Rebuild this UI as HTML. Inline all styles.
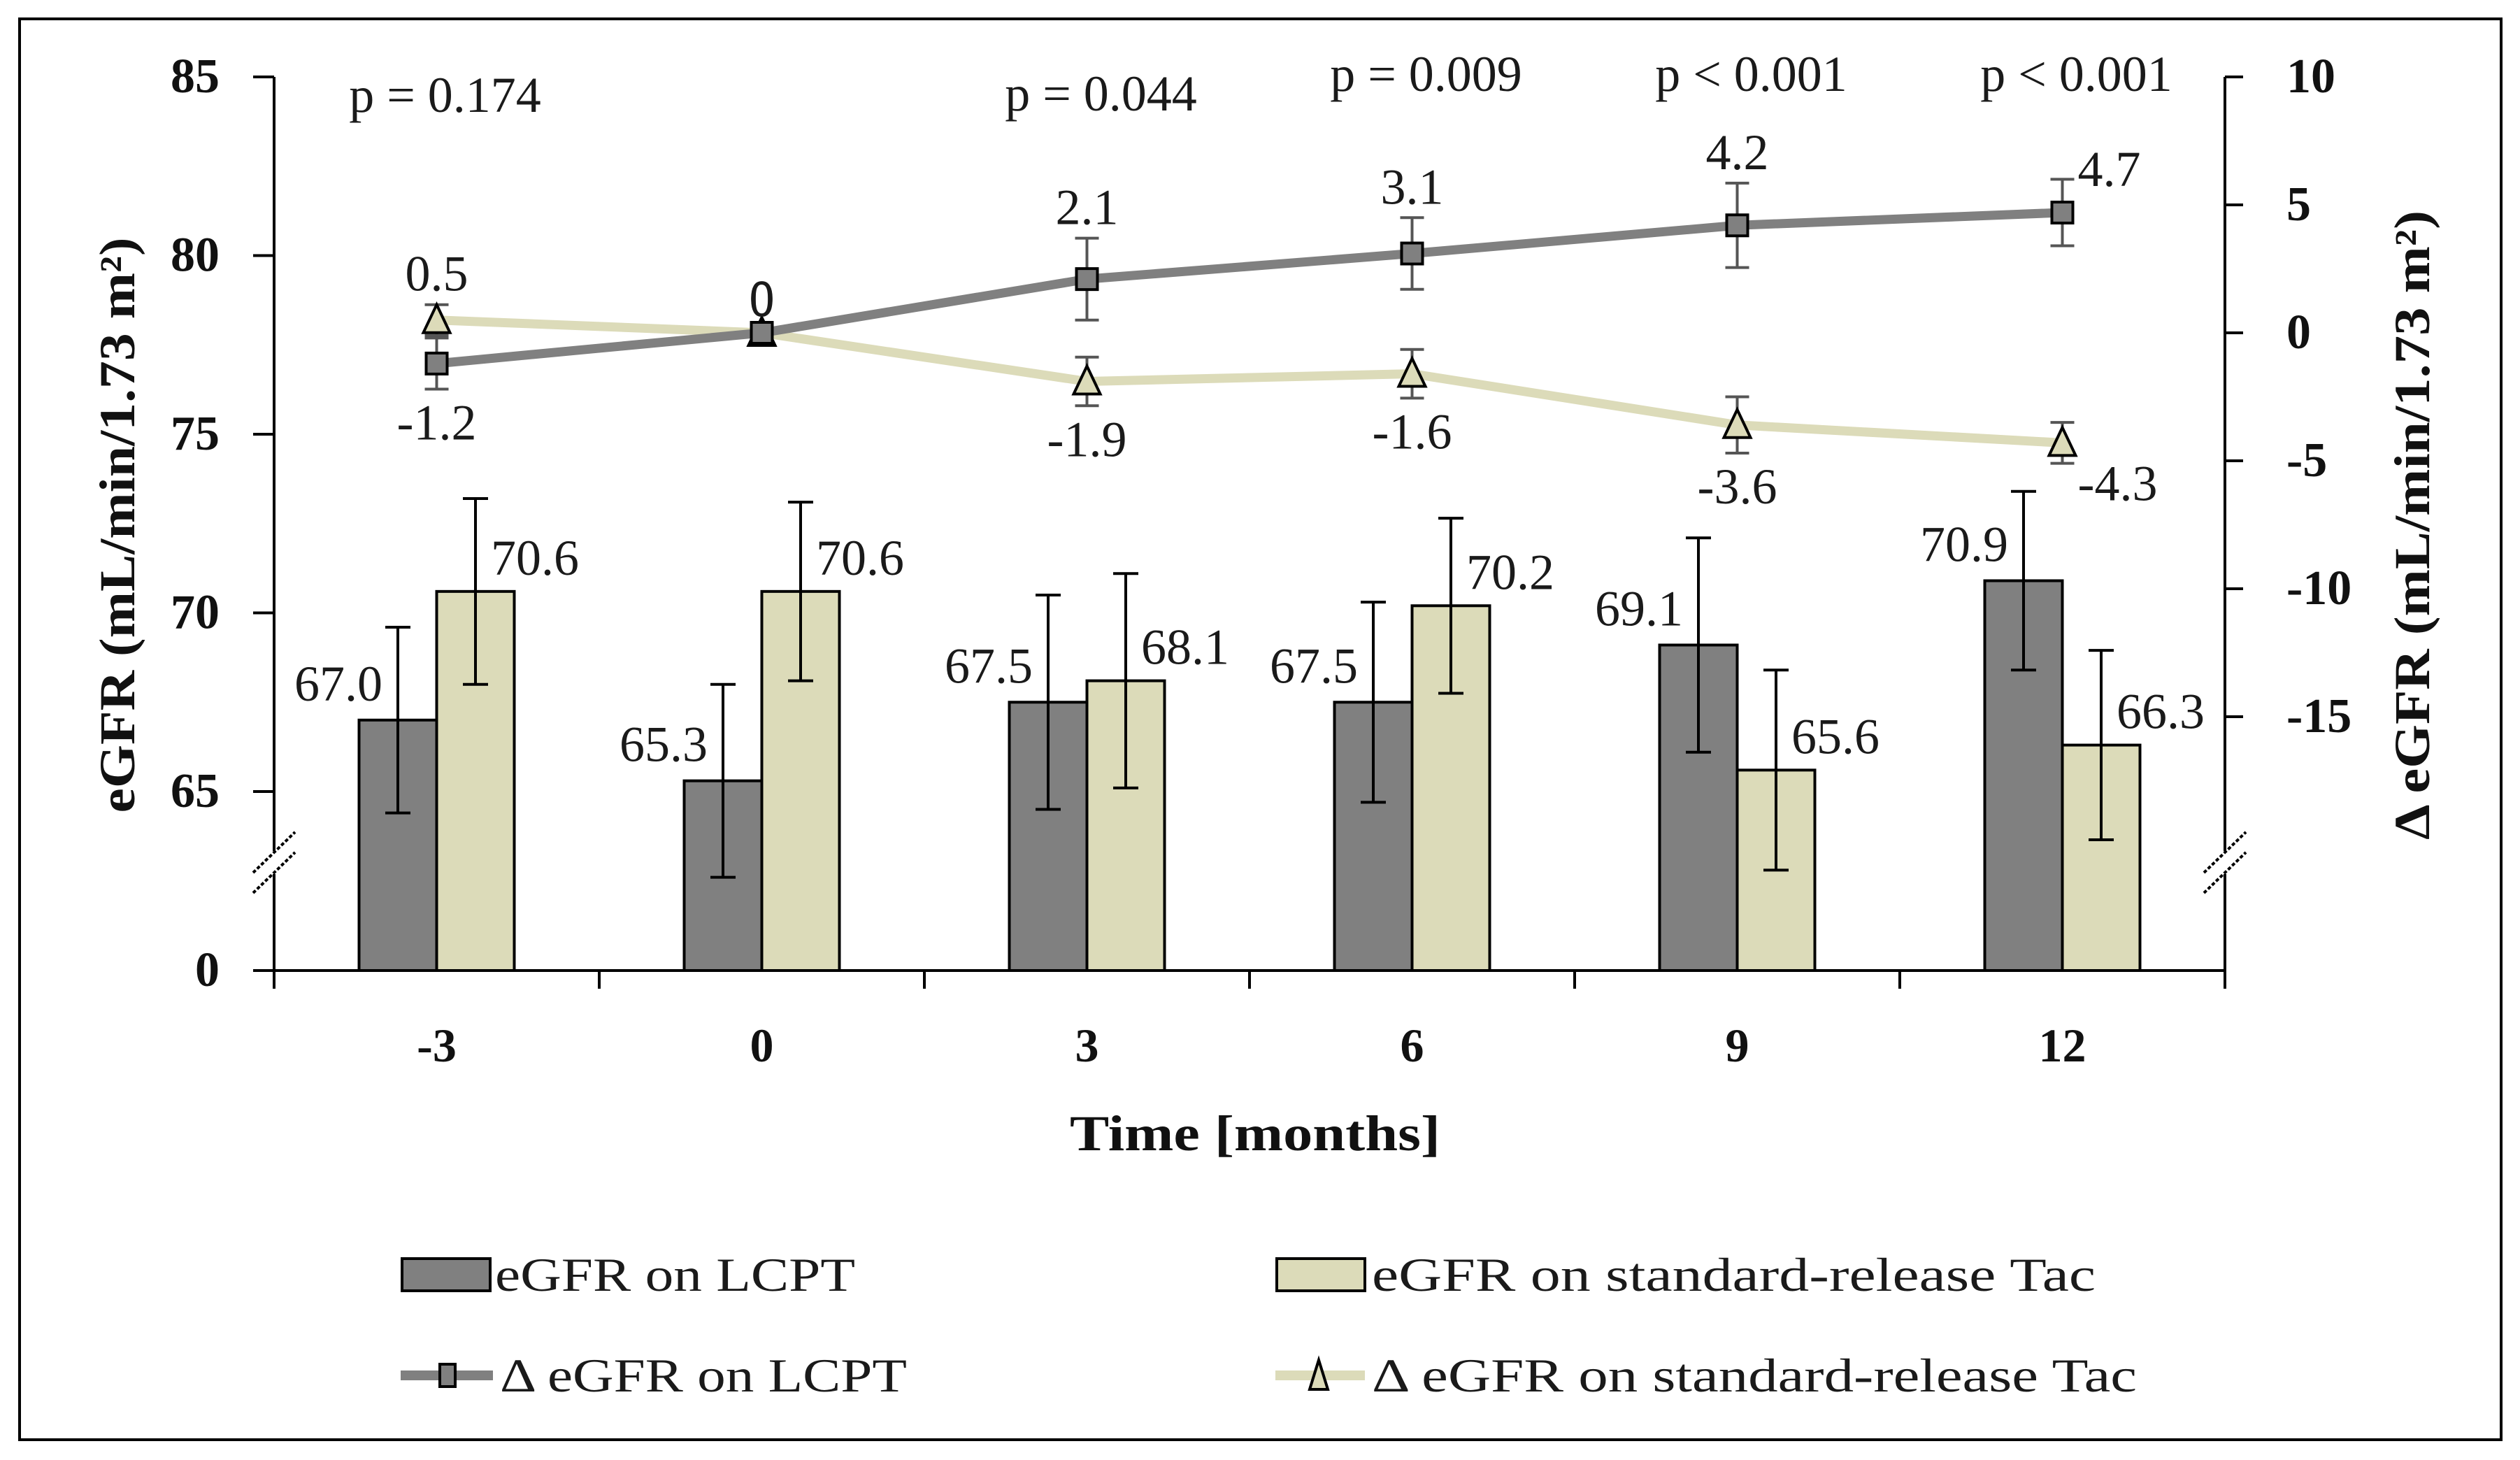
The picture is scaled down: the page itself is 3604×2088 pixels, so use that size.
<!DOCTYPE html>
<html><head><meta charset="utf-8">
<style>
html,body{margin:0;padding:0;background:#fff;}
svg{display:block;}
text{font-family:"Liberation Serif",serif;fill:#1a1a1a;}
.b{font-weight:bold;fill:#111;}
</style></head>
<body>
<svg id="chart" width="3604" height="2088" viewBox="0 0 3604 2088" xmlns="http://www.w3.org/2000/svg">
<rect x="28" y="27" width="3549" height="2032" fill="#fff" stroke="#000" stroke-width="4"/>
<g id="axes"></g>
<g id="bars"></g>
<g id="lines"></g>
<g id="labels"></g>
<g id="legend">
  <rect x="575" y="1800" width="126" height="46" fill="#808080" stroke="#000" stroke-width="4"/>
  <text x="708" y="1846" font-size="68" textLength="515" lengthAdjust="spacingAndGlyphs">eGFR on LCPT</text>
  <rect x="1826" y="1800" width="126" height="46" fill="#dcdbb9" stroke="#000" stroke-width="4"/>
  <text x="1962" y="1846" font-size="68" textLength="1035" lengthAdjust="spacingAndGlyphs">eGFR on standard-release Tac</text>
  <line x1="573" y1="1967" x2="705" y2="1967" stroke="#808080" stroke-width="14"/>
  <rect x="629" y="1951" width="22" height="32" fill="#808080" stroke="#000" stroke-width="4"/>
  <text x="715" y="1990" font-size="68" textLength="582" lengthAdjust="spacingAndGlyphs">Δ eGFR on LCPT</text>
  <line x1="1824" y1="1967" x2="1952" y2="1967" stroke="#dcdbb9" stroke-width="14"/>
  <polygon points="1886,1945 1873,1987 1899,1987" fill="#dcdbb9" stroke="#000" stroke-width="4"/>
  <text x="1962" y="1990" font-size="68" textLength="1094" lengthAdjust="spacingAndGlyphs">Δ eGFR on standard-release  Tac</text>
</g>
</svg>
<script>
const categories = ["-3","0","3","6","9","12"];
const barLCPT = [67.0,65.3,67.5,67.5,69.1,70.9];
const barLCPTerr = [2.6,2.7,3.0,2.8,3.0,2.5];
const barStd = [70.6,70.6,68.1,70.2,65.6,66.3];
const barStdErr = [2.6,2.5,3.0,2.45,2.8,2.65];
const deltaLCPT = [-1.2,0,2.1,3.1,4.2,4.7];
const deltaLCPTerr = [1.0,0.1,1.6,1.4,1.65,1.3];
const deltaStd = [0.5,0,-1.9,-1.6,-3.6,-4.3];
const deltaStdErr = [0.6,0.15,0.95,0.95,1.1,0.8];
const pValues = ["p = 0.174","","p = 0.044","p = 0.009","p < 0.001","p < 0.001"];
const leftTicks = [85,80,75,70,65];
const rightTicks = [10,5,0,-5,-10,-15];

const NS="http://www.w3.org/2000/svg";
const X0=392, X1=3182, GW=(X1-X0)/categories.length, BASE=1388;
function xC(i){return X0+GW*(i+0.5);}
function yL(v){return 1132-(v-65)*51.1;}
function yR(v){return 476-v*36.6;}
function mk(tag,attrs,parent,txt){const e=document.createElementNS(NS,tag);for(const k in attrs)e.setAttribute(k,attrs[k]);if(txt!==undefined)e.textContent=txt;document.getElementById(parent).appendChild(e);return e;}

// axes
let e;
e=mk("line",{x1:X0,y1:110,x2:X0,y2:1217,stroke:"#000","stroke-width":4},"axes");


mk("line",{x1:X0,y1:1250,x2:X0,y2:BASE,stroke:"#000","stroke-width":4},"axes");
e=mk("line",{x1:X1,y1:110,x2:X1,y2:1217,stroke:"#000","stroke-width":4},"axes");


mk("line",{x1:X1,y1:1250,x2:X1,y2:BASE,stroke:"#000","stroke-width":4},"axes");
e=mk("line",{x1:362,y1:BASE,x2:X1+2,y2:BASE,stroke:"#000","stroke-width":4},"axes");


[X0,X1].forEach(function(ax){
  mk("line",{x1:ax-30,y1:1248,x2:ax+30,y2:1190,stroke:"#000","stroke-width":4,"stroke-dasharray":"5,3"},"axes");
  mk("line",{x1:ax-30,y1:1277,x2:ax+30,y2:1219,stroke:"#000","stroke-width":4,"stroke-dasharray":"5,3"},"axes");
});
leftTicks.forEach(function(t){
  mk("line",{x1:362,y1:yL(t),x2:X0,y2:yL(t),stroke:"#000","stroke-width":4},"axes");
  e=mk("text",{x:314,y:yL(t)+22,"font-size":70,"text-anchor":"end",class:"b"},"axes",String(t));
  
  
});
e=mk("text",{x:314,y:BASE+22,"font-size":70,"text-anchor":"end",class:"b"},"axes","0");


rightTicks.forEach(function(t){
  mk("line",{x1:X1,y1:yR(t),x2:X1+26,y2:yR(t),stroke:"#000","stroke-width":4},"axes");
  e=mk("text",{x:3270,y:yR(t)+22,"font-size":70,class:"b"},"axes",String(t));
  
  
});
for(let i=0;i<=categories.length;i++){
  mk("line",{x1:X0+GW*i,y1:BASE,x2:X0+GW*i,y2:BASE+26,stroke:"#000","stroke-width":4},"axes");
}
categories.forEach(function(c,i){
  e=mk("text",{x:xC(i),y:1518,"font-size":68,"text-anchor":"middle",class:"b"},"axes",c);
  
  
});
e=mk("text",{x:1795,y:1645,"font-size":72,"text-anchor":"middle",class:"b",textLength:530,lengthAdjust:"spacingAndGlyphs"},"axes","Time [months]");


e=mk("text",{x:0,y:0,"font-size":72,"text-anchor":"middle",class:"b",transform:"translate(192,751) rotate(-90)",textLength:823,lengthAdjust:"spacingAndGlyphs"},"axes","eGFR (mL/min/1.73 m²)");


e=mk("text",{x:0,y:0,"font-size":72,"text-anchor":"middle",class:"b",transform:"translate(3474,751) rotate(-90)",textLength:900,lengthAdjust:"spacingAndGlyphs"},"axes","Δ eGFR (mL/min/1.73 m²)");



// bars
const BW=111;
categories.forEach(function(c,i){
  const cx=xC(i);
  [[barLCPT,barLCPTerr,"#808080",cx-BW,"bar-lcpt"],[barStd,barStdErr,"#dcdbb9",cx,"bar-std"]].forEach(function(s,k){
    const v=s[0][i], er=s[1][i], top=yL(v), ex=s[3]+BW/2;
    e=mk("rect",{x:s[3],y:top,width:BW,height:BASE-top,fill:s[2],stroke:"#000","stroke-width":4},"bars");
    
    
    mk("line",{x1:ex,y1:yL(v+er),x2:ex,y2:yL(v-er),stroke:"#000","stroke-width":4},"bars");
    mk("line",{x1:ex-18,y1:yL(v+er),x2:ex+18,y2:yL(v+er),stroke:"#000","stroke-width":4},"bars");
    mk("line",{x1:ex-18,y1:yL(v-er),x2:ex+18,y2:yL(v-er),stroke:"#000","stroke-width":4},"bars");
    if(k===0){
      e=mk("text",{x:ex-22,y:top-28,"font-size":72,"text-anchor":"end"},"labels",v.toFixed(1));
    } else {
      e=mk("text",{x:ex+22,y:top-24,"font-size":72},"labels",v.toFixed(1));
    }
    
    
  });
});

// lines
function drawLine(vals,errs,color,name,marker,aboveFn){
  let d="";
  vals.forEach(function(v,i){d+=(i?"L":"M")+xC(i)+","+yR(v);});
  e=mk("path",{d:d,fill:"none",stroke:color,"stroke-width":13},"lines");
  
  
  vals.forEach(function(v,i){
    const x=xC(i), er=errs[i];
    mk("line",{x1:x,y1:yR(v+er),x2:x,y2:yR(v-er),stroke:"#555","stroke-width":4},"lines");
    mk("line",{x1:x-17,y1:yR(v+er),x2:x+17,y2:yR(v+er),stroke:"#555","stroke-width":4},"lines");
    mk("line",{x1:x-17,y1:yR(v-er),x2:x+17,y2:yR(v-er),stroke:"#555","stroke-width":4},"lines");
    if(marker==="sq"){
      e=mk("rect",{x:x-15,y:yR(v)-15,width:30,height:30,fill:"#808080",stroke:"#000","stroke-width":4},"lines");
    } else {
      const y=yR(v);
      e=mk("polygon",{points:x+","+(y-22)+" "+(x-19)+","+(y+18)+" "+(x+19)+","+(y+18),fill:"#dcdbb9",stroke:"#000","stroke-width":4},"lines");
    }
    
    
    const above=aboveFn(i);
    const last=i===vals.length-1;
    let lx=last?x+22:x, ly, anchor=last?"start":"middle";
    if(last){ ly= above ? yR(v)-38 : yR(v)+82; }
    else { ly= above ? yR(v+er)-20 : yR(v-er)+72; }
    e=mk("text",{x:lx,y:ly,"font-size":72,"text-anchor":anchor},"labels",String(v));
    
    
  });
}
drawLine(deltaStd,deltaStdErr,"#dcdbb9","delta-std","tri",function(i){return i<2;});
drawLine(deltaLCPT,deltaLCPTerr,"#808080","delta-lcpt","sq",function(i){return i>0;});

// p-values
const pY=[160,130,158,130,130,130];
pValues.forEach(function(p,i){
  if(!p) return;
  e=mk("text",{x:xC(i)+(i===0?12:20),y:pY[i],"font-size":72,"text-anchor":"middle"},"labels",p);
  
  
});
</script>
</body></html>
